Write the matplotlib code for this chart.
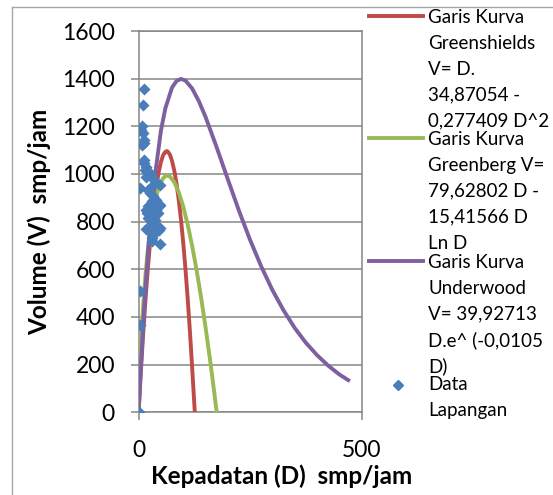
import matplotlib.pyplot as plt
from matplotlib.lines import Line2D

# field data (density D, volume V)
data_d = [0, 3, 3, 3, 13, 10, 7, 5, 10, 13, 8, 12, 13, 13, 17, 15, 20, 17, 25, 29,
          35, 49, 29, 21, 25, 33, 40, 30, 16, 21, 29, 37, 45, 49, 18, 25, 33, 43,
          37, 22, 30, 41, 49, 16, 25, 37, 45, 29, 31, 47, 35, 40]
data_v = [0, 366, 511, 943, 1356, 1288, 1202, 1186, 1172, 1144, 1123, 1131, 1059, 1045,
          1031, 1017, 1003, 989, 1003, 989, 975, 955, 948, 934, 920, 906, 892, 885,
          850, 864, 878, 871, 864, 871, 836, 840, 830, 836, 808, 815, 794, 780, 773,
          769, 759, 752, 766, 731, 717, 708, 822, 850]

# curves
greenshields_d = [0, 5, 10, 15, 20, 25, 30, 35, 40, 45, 50, 55, 60, 63, 65, 70, 75,
                  80, 85, 90, 95, 100, 105, 110, 115, 120, 126]
greenshields_v = [0, 167, 321, 461, 586, 698, 796, 881, 951, 1007, 1050, 1079, 1093,
                  1096, 1095, 1082, 1055, 1014, 960, 891, 809, 713, 603, 479, 341, 190, 0]

greenberg_d = [0, 2, 5, 10, 15, 20, 25, 30, 35, 40, 45, 50, 55, 60, 64, 70, 80, 90,
               100, 110, 120, 130, 140, 150, 160, 165, 170, 175]
greenberg_v = [0, 138, 274, 441, 568, 669, 750, 816, 869, 911, 943, 966, 982, 991, 993,
               990, 966, 923, 864, 788, 699, 597, 483, 358, 223, 151, 78, 2]

underwood_d = [0, 5, 10, 15, 25, 35, 50, 60, 75, 85, 95, 105, 120, 135, 150, 175, 200,
               225, 250, 275, 300, 325, 350, 375, 400, 425, 450, 470]
underwood_v = [0, 189, 360, 512, 768, 968, 1181, 1276, 1363, 1390, 1399, 1392, 1359,
               1306, 1240, 1112, 978, 846, 723, 612, 513, 428, 354, 292, 240, 196, 159, 135]

legend_labels = [
    ["Garis Kurva", "Greenshields", "V= D.", "34,87054 -", "0,277409 D^2"],
    ["Garis Kurva", "Greenberg V=", "79,62802 D -", "15,41566 D", "Ln D"],
    ["Garis Kurva", "Underwood", "V= 39,92713", "D.e^ (-0,0105", "D)"],
    ["Data", "Lapangan"],
]

RED = "#BE4B48"
GREEN = "#98B954"
PURPLE = "#7D60A0"
BLUE = "#4A7EBB"
GRID = "#868686"

plt.rcParams["font.family"] = ["Lato", "DejaVu Sans"]

W, H = 553, 495
fig = plt.figure(figsize=(W / 100, H / 100), dpi=100)


def px(x, y):
    return x / W, 1 - y / H


ax = fig.add_axes([138.6 / W, 1 - 412.3 / H, 223 / W, 381.3 / H])
ax.plot(greenshields_d, greenshields_v, color=RED, lw=2.8, zorder=3)
ax.plot(greenberg_d, greenberg_v, color=GREEN, lw=2.8, zorder=3)
ax.plot(underwood_d, underwood_v, color=PURPLE, lw=2.8, zorder=3)
ax.scatter(data_d, data_v, marker="D", s=38, color=BLUE, lw=0, zorder=4)

ax.set_xlim(0, 500)
ax.set_ylim(0, 1600)
ax.set_xticks([0, 500])
ax.set_yticks(range(0, 1601, 200))
ax.grid(axis="y", color=GRID, lw=1.1)
ax.set_axisbelow(True)
for s in ax.spines.values():
    s.set_color(GRID)
    s.set_linewidth(1.1)
ax.tick_params(axis="both", length=6, width=1.1, color=GRID, labelsize=16.5)
ax.tick_params(axis="y", pad=11)
ax.tick_params(axis="x", pad=14)
ax.set_xlabel("Kepadatan (D)  smp/jam", fontsize=17.5, fontweight="bold")
ax.xaxis.set_label_coords((282 - 138.6) / 223, -(488 - 412.3) / 381.3)
ax.xaxis.label.set_va("bottom")
ax.set_ylabel("Volume (V)  smp/jam", fontsize=17.5, fontweight="bold", labelpad=8)

# legend drawn by hand to keep Excel's wrapped layout
colors = [RED, GREEN, PURPLE]
first_base = [22.7, 144.7, 267.7, 390]
for i, lines in enumerate(legend_labels):
    for j, t in enumerate(lines):
        x, y = px(428, first_base[i] + j * 26)
        fig.text(x, y, t, fontsize=13.5, va="baseline", ha="left")
    if i < 3:
        x0, y0 = px(369, first_base[i] - 7)
        x1, _ = px(423, 0)
        fig.add_artist(Line2D([x0, x1], [y0, y0], color=colors[i], lw=2.8))
    else:
        mx, my = px(398, 385)
        fig.add_artist(Line2D([mx], [my], marker="D", ms=5.5, color=BLUE, lw=0))

# chart area border (cropped)
bx, by = px(12.3, 7)
fig.add_artist(Line2D([bx, 1.0], [by, by], color="#A6A6A6", lw=1))
fig.add_artist(Line2D([bx, bx], [by, 0.0], color="#A6A6A6", lw=1))

fig.savefig("out.png", dpi=100)
